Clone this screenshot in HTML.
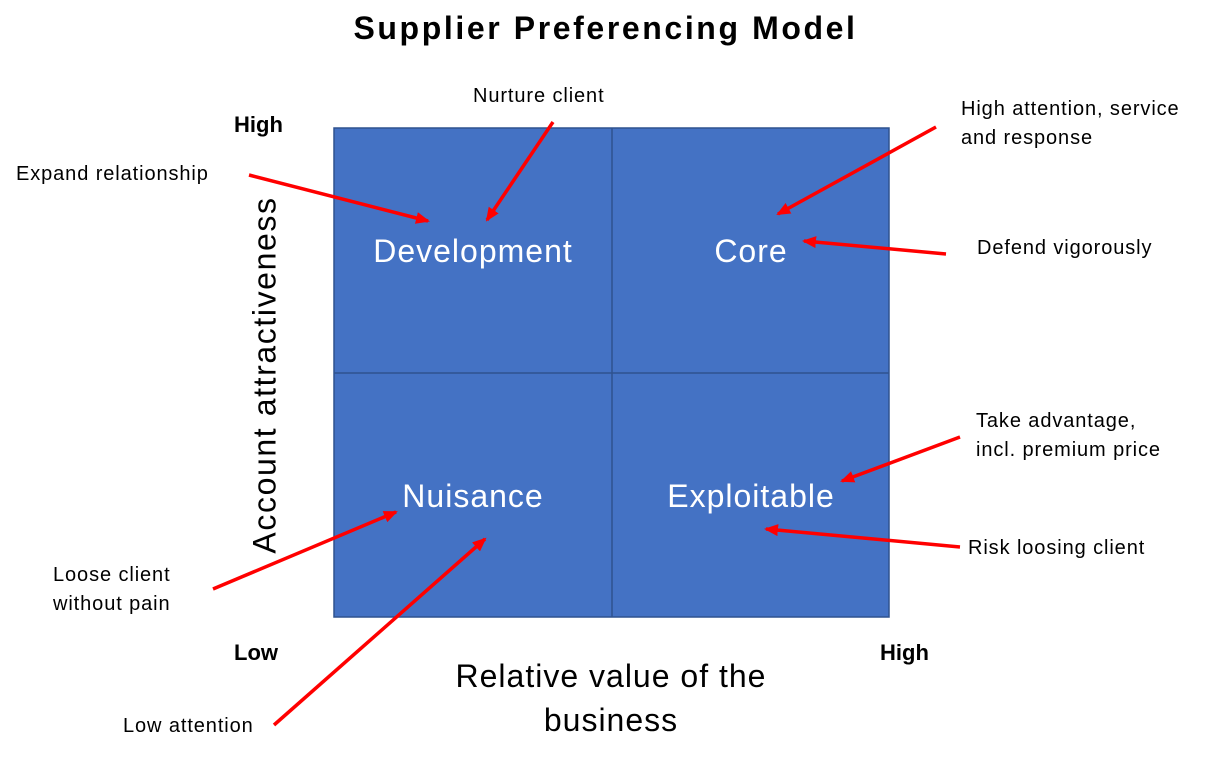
<!DOCTYPE html>
<html><head><meta charset="utf-8"><style>
body{margin:0;width:1211px;height:764px;background:#fff;overflow:hidden;font-family:"Liberation Sans",sans-serif;position:relative}
.t{position:absolute;font-size:20px;letter-spacing:0.9px;color:#000;line-height:29px;white-space:nowrap}
.q{position:absolute;color:#fff;font-size:32px;letter-spacing:1px;text-align:center;width:278px}
.b{position:absolute;font-weight:bold;font-size:22px}
</style></head><body>
<div style="position:absolute;left:0;width:1211px;top:10px;text-align:center;font-weight:bold;font-size:32px;letter-spacing:2.6px">Supplier Preferencing Model</div>
<svg width="1211" height="764" style="position:absolute;left:0;top:0">
<defs><marker id="h" markerWidth="14" markerHeight="12" refX="12" refY="6" orient="auto" markerUnits="userSpaceOnUse"><path d="M0,0 L14,6 L0,12 z" fill="#f00"/></marker></defs>
<rect x="334" y="128" width="555" height="489" fill="#4472C4" stroke="#2F528F" stroke-width="1.5"/>
<line x1="612" y1="128" x2="612" y2="617" stroke="#2F528F" stroke-width="1.5"/>
<line x1="334" y1="373" x2="889" y2="373" stroke="#2F528F" stroke-width="1.5"/>
<g stroke="#f00" stroke-width="3.5" marker-end="url(#h)">
<line x1="249" y1="175" x2="428" y2="221"/>
<line x1="553" y1="122" x2="487" y2="220"/>
<line x1="936" y1="127" x2="778" y2="214"/>
<line x1="946" y1="254" x2="804" y2="241"/>
<line x1="960" y1="437" x2="842" y2="481"/>
<line x1="960" y1="547" x2="766" y2="529"/>
<line x1="213" y1="589" x2="396" y2="512"/>
<line x1="274" y1="725" x2="485" y2="539"/>
</g>
</svg>
<div class="q" style="left:334px;top:233px">Development</div>
<div class="q" style="left:612px;top:233px">Core</div>
<div class="q" style="left:334px;top:478px">Nuisance</div>
<div class="q" style="left:612px;top:478px">Exploitable</div>
<div class="b" style="left:234px;top:112px">High</div>
<div class="b" style="left:234px;top:640px">Low</div>
<div class="b" style="left:880px;top:640px">High</div>
<div style="position:absolute;left:265px;top:375px;transform:translate(-50%,-50%) rotate(-90deg);font-size:32px;letter-spacing:1.6px;white-space:nowrap">Account attractiveness</div>
<div style="position:absolute;left:361px;width:500px;top:654px;text-align:center;font-size:32px;letter-spacing:1px;line-height:44px">Relative value of the<br>business</div>
<div class="t" style="left:16px;top:160px">Expand relationship</div>
<div class="t" style="left:473px;top:82px">Nurture client</div>
<div class="t" style="left:961px;top:95px">High attention, service<br>and response</div>
<div class="t" style="left:977px;top:234px">Defend vigorously</div>
<div class="t" style="left:976px;top:407px">Take advantage,<br>incl. premium price</div>
<div class="t" style="left:968px;top:534px">Risk loosing client</div>
<div class="t" style="left:53px;top:561px">Loose client<br>without pain</div>
<div class="t" style="left:123px;top:712px">Low attention</div>
</body></html>
